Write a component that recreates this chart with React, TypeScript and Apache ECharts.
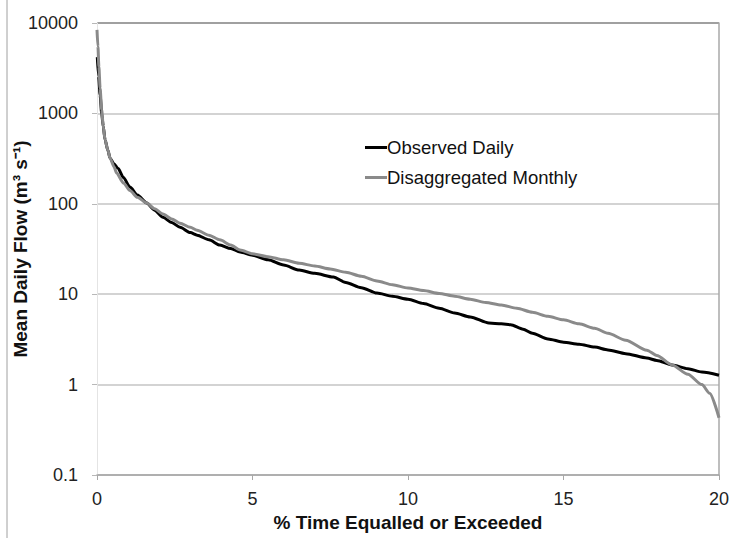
import React, { useEffect, useRef } from "react";
import * as echarts from "echarts";

const xTickLabels = ["0", "5", "10", "15", "20"];
const yTickLabels = ["0.1", "1", "10", "100", "1000", "10000"];

const seriesNames = ["Observed Daily", "Disaggregated Monthly"];

const observedPct = [
  0.01, 0.05, 0.1, 0.15, 0.2, 0.26, 0.35, 0.42, 0.55, 0.68, 0.85, 1.06, 1.3, 1.6, 1.85, 2.12, 2.4,
  2.67, 3.0, 3.22, 3.6, 3.95, 4.3, 4.6, 5.0, 5.5, 6.0, 6.5, 7.0, 7.6, 8.0, 8.5, 9.0, 9.5, 10.0,
  10.5, 11.0, 11.5, 12.0, 12.6, 13.0, 13.3, 13.7, 14.0, 14.5, 15.0, 15.5, 16.0, 16.43, 17.0, 17.68,
  18.0, 18.49, 19.0, 19.45, 20.0,
];
const observedFlow = [
  4200, 2600, 1600, 1000, 720, 508, 390, 320, 275, 245, 195, 153, 125, 102, 85, 71, 62,
  55, 48, 45, 40, 35, 32, 29.3, 27, 24, 21, 18.5, 17, 15.5, 13.5, 11.8, 10.3, 9.5, 8.8,
  7.9, 7.0, 6.2, 5.6, 4.8, 4.7, 4.6, 4.1, 3.7, 3.2, 2.95, 2.8, 2.6, 2.42, 2.2, 1.97,
  1.85, 1.65, 1.5, 1.38, 1.27,
];

const disaggPct = [
  0.0, 0.03, 0.06, 0.1, 0.15, 0.2, 0.26, 0.35, 0.42, 0.55, 0.63, 0.85, 1.06, 1.3, 1.6, 1.85, 2.12,
  2.4, 2.67, 3.0, 3.22, 3.6, 3.95, 4.3, 4.6, 5.0, 5.5, 6.0, 6.5, 7.0, 7.5, 8.0, 8.5, 9.0, 9.5,
  10.0, 10.5, 11.0, 11.5, 12.0, 12.5, 13.0, 13.5, 14.0, 14.5, 15.0, 15.5, 16.0, 16.43, 17.0, 17.68,
  18.0, 18.49, 19.0, 19.45, 19.7, 20.0,
];
const disaggFlow = [
  8400, 5500, 3300, 1900, 1100, 720, 508, 390, 320, 255, 219, 170, 140, 118, 102, 88, 77,
  68, 61, 55, 51, 45, 40, 35, 30.8, 28, 26, 24, 22, 20.5, 19, 17.5, 15.8, 14, 12.7,
  11.7, 11.0, 10.2, 9.5, 8.8, 8.1, 7.6, 7.0, 6.3, 5.7, 5.2, 4.7, 4.2, 3.7, 3.1, 2.4,
  2.1, 1.65, 1.3, 1.0, 0.8, 0.43,
];

const FONT = "'Liberation Sans', Arial, sans-serif";

export default function App() {
  const ref = useRef<HTMLDivElement>(null);

  useEffect(() => {
    if (!ref.current) return;
    const chart = echarts.init(ref.current, null, { renderer: "svg" });

    const observed = observedPct.map((p, i) => [p, observedFlow[i]]);
    const disagg = disaggPct.map((p, i) => [p, disaggFlow[i]]);

    chart.setOption({
      animation: false,
      backgroundColor: "#ffffff",
      grid: {
        left: 97,
        right: 11,
        top: 23,
        bottom: 63,
        containLabel: false,
        outerBoundsMode: "none",
      },
      graphic: [
        {
          type: "line",
          shape: { x1: 7, y1: 0, x2: 7, y2: 538 },
          style: { stroke: "#a0a0a0", lineWidth: 1 },
          silent: true,
        },
      ],
      legend: {
        orient: "vertical",
        left: 360,
        top: 133,
        itemWidth: 22,
        itemHeight: 3,
        itemGap: 11,
        icon: "rect",
        data: seriesNames,
        textStyle: {
          fontFamily: FONT,
          fontSize: 18.5,
          color: "#111",
          padding: [0, 0, 0, -5],
        },
      },
      xAxis: {
        type: "value",
        min: 0,
        max: 20,
        interval: 5,
        name: "% Time Equalled or Exceeded",
        nameLocation: "middle",
        nameGap: 38,
        nameMoveOverlap: false,
        nameTextStyle: { fontFamily: FONT, fontSize: 19, fontWeight: "bold", color: "#111" },
        axisLine: { show: true, lineStyle: { color: "#a8a8a8", width: 1.5 } },
        axisTick: { show: true, length: 5, lineStyle: { color: "#a8a8a8" } },
        axisLabel: {
          margin: 15,
          fontFamily: FONT,
          fontSize: 18,
          color: "#222",
          formatter: (v: number) => xTickLabels[Math.round(v / 5)] ?? "",
        },
        splitLine: { show: false },
      },
      yAxis: [
        {
          type: "log",
          logBase: 10,
          min: 0.1,
          max: 10000,
          name: "Mean Daily Flow (m³ s⁻¹)",
          nameLocation: "middle",
          nameGap: 67,
          nameMoveOverlap: false,
          nameTextStyle: { fontFamily: FONT, fontSize: 19, fontWeight: "bold", color: "#111" },
          axisLine: { show: true, lineStyle: { color: "#e4e4e4", width: 1 } },
          axisTick: { show: true, length: 5, lineStyle: { color: "#b8b8b8" } },
          axisLabel: {
            margin: 19,
            fontFamily: FONT,
            fontSize: 18,
            color: "#222",
            formatter: (v: number) => yTickLabels[Math.round(Math.log10(v)) + 1] ?? "",
          },
          splitLine: {
            show: true,
            lineStyle: {
              color: ["#b0b0b0", "#c4c4c4", "#c4c4c4", "#c4c4c4", "#c4c4c4", "#808080"],
              width: 1.5,
            },
          },
        },
        {
          type: "log",
          logBase: 10,
          min: 0.1,
          max: 10000,
          position: "right",
          axisLine: { show: true, lineStyle: { color: "#a8a8a8", width: 1.5 } },
          axisTick: { show: false },
          axisLabel: { show: false },
          splitLine: { show: false },
        },
      ],
      series: [
        {
          name: seriesNames[0],
          type: "line",
          data: observed,
          showSymbol: false,
          symbol: "none",
          smooth: 0.25,
          smoothMonotone: "x",
          lineStyle: { color: "#000000", width: 3 },
          itemStyle: { color: "#000000" },
          z: 3,
        },
        {
          name: seriesNames[1],
          type: "line",
          data: disagg,
          showSymbol: false,
          symbol: "none",
          smooth: 0.25,
          smoothMonotone: "x",
          lineStyle: { color: "#8a8a8a", width: 3 },
          itemStyle: { color: "#8a8a8a" },
          z: 4,
        },
      ],
    });

    return () => chart.dispose();
  }, []);

  return (
    <div
      ref={ref}
      style={{ position: "fixed", left: 0, top: 0, width: 730, height: 538 }}
    />
  );
}
